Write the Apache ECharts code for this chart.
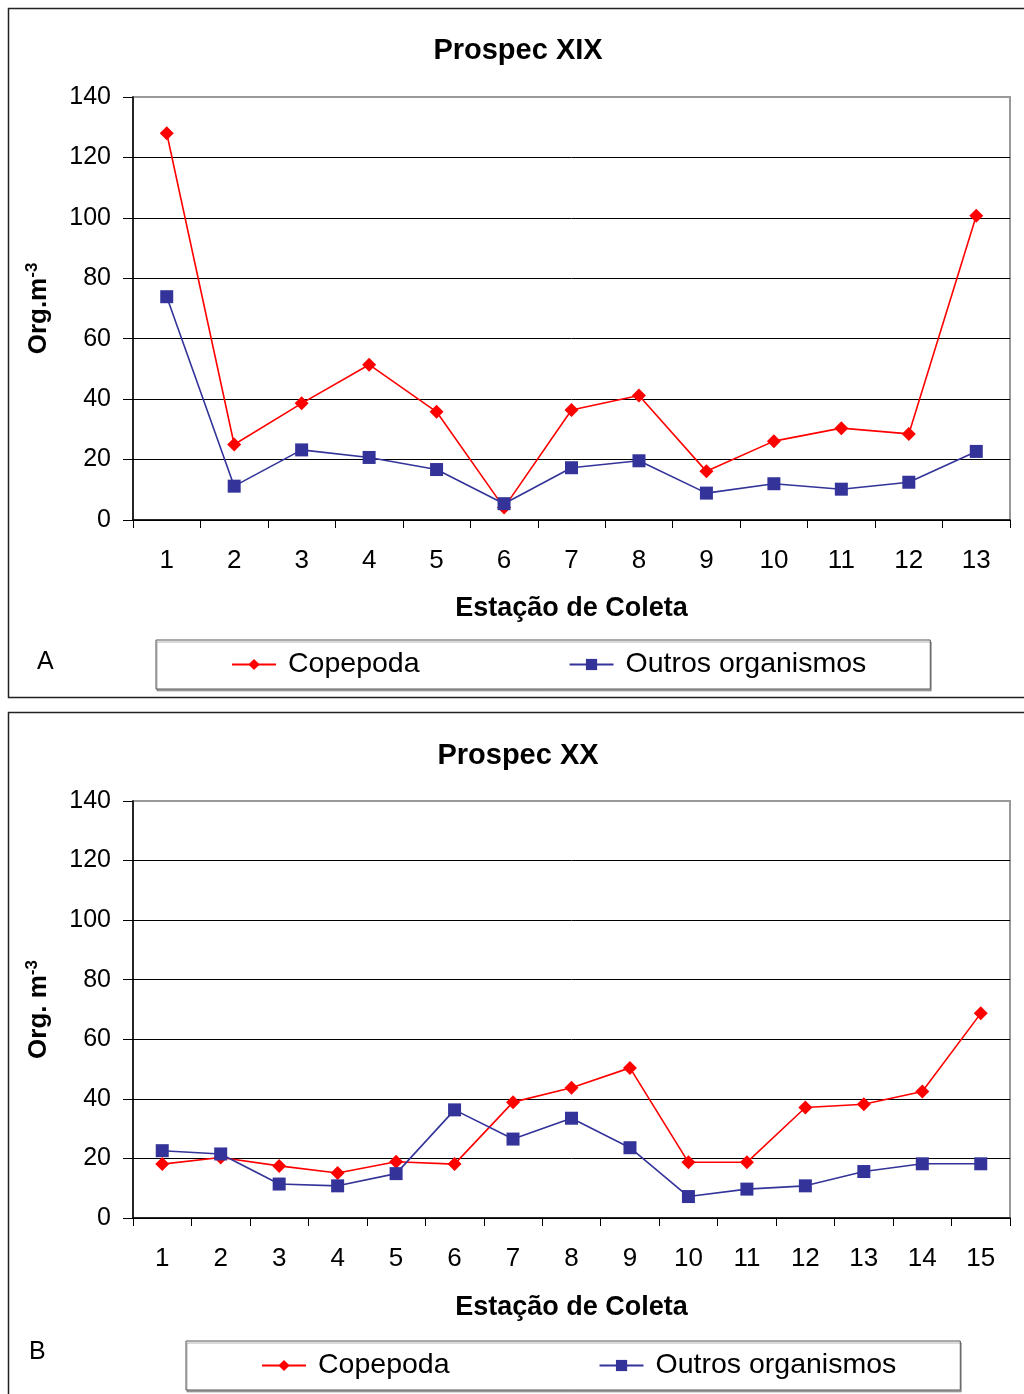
<!DOCTYPE html>
<html>
<head>
<meta charset="utf-8">
<script src="https://cdn.jsdelivr.net/npm/echarts@6/dist/echarts.min.js"></script>
<style>
html,body{margin:0;padding:0;background:#fff;}
#c{width:1024px;height:1394px;}
</style>
</head>
<body>
<div id="c"></div>
<script>
// ---- data ----
const stationsA = ['1','2','3','4','5','6','7','8','9','10','11','12','13'];
const copepodaA = [128.0, 25.0, 38.6, 51.4, 35.8, 4.1, 36.4, 41.2, 16.1, 26.1, 30.4, 28.5, 100.7];
const outrosA   = [73.9, 11.2, 23.2, 20.7, 16.7, 5.4, 17.3, 19.6, 8.9, 12.0, 10.2, 12.5, 22.7];

const stationsB = ['1','2','3','4','5','6','7','8','9','10','11','12','13','14','15'];
const copepodaB = [18.1, 20.3, 17.5, 15.1, 18.9, 18.1, 38.9, 43.7, 50.4, 18.7, 18.7, 37.1, 38.2, 42.5, 68.7];
const outrosB   = [22.6, 21.5, 11.4, 10.8, 14.9, 36.3, 26.5, 33.5, 23.6, 7.2, 9.7, 10.8, 15.6, 18.2, 18.2];

const yTicks = [0, 20, 40, 60, 80, 100, 120, 140];
const titles = ['Prospec XIX', 'Prospec XX'];
const seriesNames = ['Copepoda', 'Outros organismos'];

const FONT = '"Liberation Sans", Arial, sans-serif';
const RED = '#FF0000', NAVY = '#333399';

const chart = echarts.init(document.getElementById('c'), null, {renderer: 'canvas'});

function xAxisCfg(cats, gridIndex, nameGap) {
  return {
    type: 'category', gridIndex, data: cats, boundaryGap: true,
    name: 'Estação de Coleta', nameLocation: 'middle', nameGap,
    nameTextStyle: {fontFamily: FONT, fontSize: 27, fontWeight: 'bold', color: '#000'},
    axisLine: {lineStyle: {color: '#000', width: 1.5}},
    axisTick: {show: true, length: 8, lineStyle: {color: '#000'}},
    axisLabel: {fontFamily: FONT, fontSize: 26, color: '#000', margin: 28}
  };
}
function yAxisCfg(gridIndex, name) {
  return {
    type: 'value', gridIndex, min: yTicks[0], max: yTicks[yTicks.length - 1], interval: 20,
    name, nameLocation: 'middle', nameGap: 80,
    nameTextStyle: {fontFamily: FONT, fontSize: 26, fontWeight: 'bold', color: '#000',
      rich: {b: {fontFamily: FONT, fontSize: 26, fontWeight: 'bold', color: '#000'},
             sup: {fontFamily: FONT, fontSize: 17, fontWeight: 'bold', color: '#000', verticalAlign: 'top', padding: [0,0,12,0]}}},
    axisLine: {show: true, lineStyle: {color: '#000', width: 1.5}},
    axisTick: {show: true, length: 10, lineStyle: {color: '#000'}},
    axisLabel: {fontFamily: FONT, fontSize: 25, color: '#000', margin: 22},
    splitLine: {show: true, showMaxLine: false, lineStyle: {color: '#000', width: 1}}
  };
}
function lineSeries(name, data, xi, yi, isCop) {
  return {
    type: 'line', name, data, xAxisIndex: xi, yAxisIndex: yi,
    symbol: isCop ? 'diamond' : 'rect', symbolSize: isCop ? 14 : 13,
    lineStyle: {color: isCop ? RED : NAVY, width: 1.6},
    itemStyle: {color: isCop ? RED : NAVY},
    animation: false, z: isCop ? 3 : 4
  };
}
function legendCfg(left, top, padding) {
  return {
    left, top, orient: 'horizontal',
    data: seriesNames,
    itemWidth: 44, itemHeight: 14, itemGap: 149,
    borderColor: '#555', borderWidth: 1, padding,
    backgroundColor: '#fff',
    shadowColor: 'rgba(0,0,0,0.3)', shadowOffsetX: 1, shadowOffsetY: 2, shadowBlur: 0,
    textStyle: {fontFamily: FONT, fontSize: 28.5, color: '#000', padding: [0,0,0,7]},
    selectedMode: false
  };
}

const option = {
  backgroundColor: '#fff',
  animation: false,
  title: [
    {text: titles[0], left: 513, top: 31, textAlign: 'center',
     textStyle: {fontFamily: FONT, fontSize: 29, fontWeight: 'bold', color: '#000'}},
    {text: titles[1], left: 513, top: 736, textAlign: 'center',
     textStyle: {fontFamily: FONT, fontSize: 29, fontWeight: 'bold', color: '#000'}}
  ],
  grid: [
    {left: 133, top: 97, width: 877, height: 423, show: true, borderColor: '#999', borderWidth: 2, backgroundColor: 'transparent'},
    {left: 133, top: 801, width: 877, height: 417, show: true, borderColor: '#999', borderWidth: 2, backgroundColor: 'transparent'}
  ],
  xAxis: [xAxisCfg(stationsA, 0, 75), xAxisCfg(stationsB, 1, 76)],
  yAxis: [yAxisCfg(0, '{b|Org.m}{sup|-3}'), yAxisCfg(1, '{b|Org. m}{sup|-3}')],
  legend: [
    legendCfg(156, 640, [10, 64, 10, 75]),
    legendCfg(186, 1341, [10, 64, 10, 75])
  ],
  series: [
    lineSeries(seriesNames[0], copepodaA, 0, 0, true),
    lineSeries(seriesNames[1], outrosA, 0, 0, false),
    lineSeries(seriesNames[0], copepodaB, 1, 1, true),
    lineSeries(seriesNames[1], outrosB, 1, 1, false)
  ],
  graphic: [
    {type: 'rect', shape: {x: 8.5, y: 8.5, width: 1030, height: 689}, style: {fill: 'none', stroke: '#222', lineWidth: 1.5}, z: -10},
    {type: 'rect', shape: {x: 8.5, y: 712.5, width: 1030, height: 700}, style: {fill: 'none', stroke: '#222', lineWidth: 1.5}, z: -10},
    {type: 'text', left: 37, top: 650, style: {text: 'A', fontFamily: FONT, fontSize: 25, fill: '#000'}},
    {type: 'text', left: 29, top: 1340, style: {text: 'B', fontFamily: FONT, fontSize: 25, fill: '#000'}}
  ]
};
chart.setOption(option);
</script>
</body>
</html>
